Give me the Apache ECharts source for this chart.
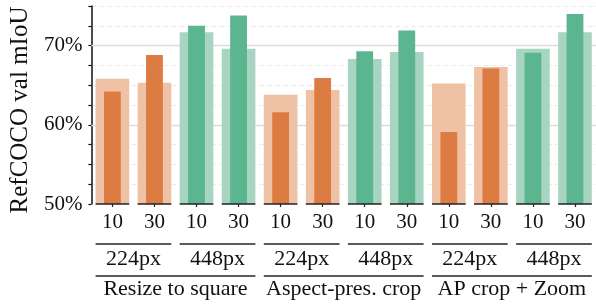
<!DOCTYPE html>
<html>
<head>
<meta charset="utf-8">
<script src="https://cdn.jsdelivr.net/npm/echarts@6/dist/echarts.min.js"></script>
<style>
  html, body { margin: 0; padding: 0; background: #fff; }
  #chart { width: 596px; height: 305px; }
</style>
</head>
<body>
<div id="chart"></div>
<script>
// x categories (number of ... per setting), grouped by resolution and by method
const categories = ['10', '30', '10', '30', '10', '30', '10', '30', '10', '30', '10', '30'];
const resolutions = ['224px', '448px', '224px', '448px', '224px', '448px'];
const methods = ['Resize to square', 'Aspect-pres. crop', 'AP crop + Zoom'];

// wide light bars (back) and narrow dark bars (front), in %
const lightValues = [65.8, 65.3, 71.7, 69.6, 63.8, 64.4, 68.3, 69.2, 65.2, 67.3, 69.6, 71.7];
const darkValues = [64.2, 68.8, 72.5, 73.8, 61.6, 65.9, 69.3, 71.9, 59.1, 67.1, 69.1, 74.0];

const FONT = 'Liberation Serif';
const lightColors = ['#f0c2a5', '#a8d5c1'];
const darkColors = ['#dc7c43', '#5bb58f'];

var chartDom = document.getElementById('chart');
var myChart = echarts.init(chartDom);

// colour depends on resolution (224px -> orange, 448px -> green)
function resIdx(i) {
  return Math.floor(i / 2) % 2;
}

// line under each group of bars, drawn from the category axis
function spanLine(first, last, below) {
  return function (params, api) {
    var i = api.value(0);
    var a = api.coord([first(i), 50]);
    var b = api.coord([last(i), 50]);
    var bw = api.size([1, 0])[0];
    return {
      type: 'line',
      shape: { x1: a[0] - bw * 0.4, y1: a[1] + below, x2: b[0] + bw * 0.4, y2: b[1] + below },
      style: { stroke: '#222', lineWidth: 1.4 }
    };
  };
}

var gridColors = ['rgba(0,0,0,0)'];
for (var k = 0; k < 10; k++) gridColors.push('#ebebeb');

var option = {
  animation: false,
  grid: { left: 89, right: 0, top: 6, bottom: 101 },
  xAxis: [
    {
      type: 'category',
      data: categories,
      axisLine: { show: false },
      axisTick: { show: true, alignWithLabel: true, length: 3, lineStyle: { color: '#222', width: 1.2 } },
      axisLabel: { interval: 0, fontFamily: FONT, fontSize: 21, color: '#111', margin: 8 }
    },
    {
      type: 'category',
      data: categories,
      show: false
    },
    {
      type: 'category',
      data: resolutions,
      position: 'bottom',
      offset: 38,
      axisLine: { show: false },
      axisTick: { show: false },
      axisLabel: { interval: 0, fontFamily: FONT, fontSize: 22, color: '#111', margin: 6 }
    },
    {
      type: 'category',
      data: methods,
      position: 'bottom',
      offset: 68,
      axisLine: { show: false },
      axisTick: { show: false },
      axisLabel: { interval: 0, fontFamily: FONT, fontSize: 22, color: '#111', margin: 6 }
    }
  ],
  yAxis: {
    type: 'value',
    min: 50,
    max: 75,
    interval: 2.5,
    name: 'RefCOCO val mIoU',
    nameLocation: 'middle',
    nameGap: 51,
    nameTextStyle: { fontFamily: FONT, fontSize: 25, color: '#111', padding: [0, 10, 0, 0] },
    axisLine: { show: true, lineStyle: { color: '#111', width: 1.5 } },
    axisTick: { show: true, length: 3, lineStyle: { color: '#111', width: 1.2 } },
    axisLabel: {
      fontFamily: FONT,
      fontSize: 21,
      color: '#111',
      margin: 9,
      formatter: function (v) {
        return v % 10 === 0 ? v + '%' : '';
      }
    },
    splitLine: { show: true, lineStyle: { color: gridColors, type: [5, 3], width: 1 } }
  },
  series: [
    {
      type: 'bar',
      xAxisIndex: 0,
      barWidth: '80%',
      data: lightValues,
      itemStyle: { color: function (p) { return lightColors[resIdx(p.dataIndex)]; } },
      markLine: {
        silent: true,
        symbol: 'none',
        z: 1,
        label: { show: false },
        lineStyle: { color: '#dcdcdc', type: 'solid', width: 1.4 },
        data: [{ yAxis: 60 }, { yAxis: 70 }]
      }
    },
    {
      type: 'bar',
      xAxisIndex: 1,
      barWidth: '40%',
      z: 3,
      data: darkValues,
      itemStyle: { color: function (p) { return darkColors[resIdx(p.dataIndex)]; } }
    },
    {
      // baseline segment under every bar
      type: 'custom',
      xAxisIndex: 0,
      clip: false,
      silent: true,
      z: 4,
      data: categories.map(function (c, i) { return [i]; }),
      renderItem: spanLine(function (i) { return i; }, function (i) { return i; }, 0)
    },
    {
      // line above the resolution labels
      type: 'custom',
      xAxisIndex: 0,
      clip: false,
      silent: true,
      data: resolutions.map(function (r, i) { return [i]; }),
      renderItem: spanLine(function (i) { return 2 * i; }, function (i) { return 2 * i + 1; }, 40)
    },
    {
      // line above the method labels
      type: 'custom',
      xAxisIndex: 0,
      clip: false,
      silent: true,
      data: methods.map(function (m, i) { return [i]; }),
      renderItem: spanLine(function (i) { return 4 * i; }, function (i) { return 4 * i + 3; }, 72)
    }
  ]
};

myChart.setOption(option);
</script>
</body>
</html>
